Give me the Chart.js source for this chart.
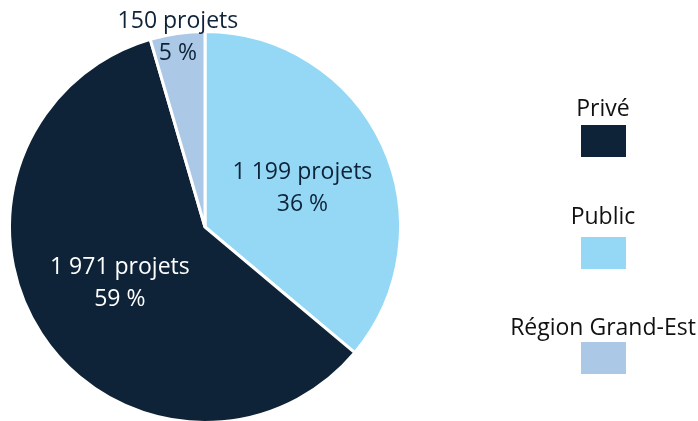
<!DOCTYPE html>
<html>
<head>
<meta charset="utf-8">
<script src="https://cdn.jsdelivr.net/npm/chart.js@4"></script>
<style>
  html,body{margin:0;padding:0;background:#fff;overflow:hidden;}
  #wrap{position:absolute;left:0;top:0;width:698px;height:440px;}
  .lg-t{position:absolute;left:483px;width:240px;text-align:center;font-family:"Open Sans",sans-serif;font-size:23px;line-height:30px;color:#111;white-space:nowrap;}
  .lg-b{position:absolute;left:581px;width:45px;height:32px;}
</style>
</head>
<body>
<div id="wrap"><canvas id="ch"></canvas></div>
<div id="legend"></div>
<script>
// slice order = drawing order, clockwise from 12 o'clock
const categories = ['Public','Privé','Région Grand-Est'];
const projets    = [1199, 1971, 150];
const percents   = [36, 59, 5];
const colors     = ['#94D8F5','#0E2338','#ABC9E6'];
const legendOrder = ['Privé','Public','Région Grand-Est'];

const fmt = n => n.toLocaleString('fr-FR').replace(/\s/g,' ');

// labels on the slices
const sliceLabels = {
  id:'sliceLabels',
  afterDatasetsDraw(chart){
    const {ctx} = chart;
    const meta = chart.getDatasetMeta(0);
    const rf  = [0.55, 0.52, 0.98];
    const dy  = [7, 1, 0];
    const col = ['#0E2338','#ffffff','#0E2338'];
    meta.data.forEach((arc,i)=>{
      const mid = (arc.startAngle+arc.endAngle)/2;
      const r = arc.outerRadius*rf[i];
      const x = arc.x + Math.cos(mid)*r, y = arc.y + Math.sin(mid)*r + dy[i];
      ctx.save();
      ctx.font = '23px "Open Sans", sans-serif';
      ctx.fillStyle = col[i];
      ctx.textAlign = 'center'; ctx.textBaseline = 'middle';
      ctx.fillText(fmt(projets[i])+' projets', x, y-16);
      ctx.fillText(percents[i]+' %', x, y+16);
      ctx.restore();
    });
  }
};

new Chart(document.getElementById('ch'), {
  type:'pie',
  data:{ labels:categories, datasets:[{ data:projets, backgroundColor:colors, borderColor:'#fff', borderWidth:3 }] },
  options:{ responsive:true, maintainAspectRatio:false, animation:false,
    layout:{ padding:{ left:8, right:296, top:30, bottom:16 } },
    plugins:{ legend:{ display:false }, tooltip:{ enabled:false } } },
  plugins:[sliceLabels]
});

// legend, label above its box
const textMid = [107, 215, 326];
const boxTop  = [125, 237, 342];
const lg = document.getElementById('legend');
legendOrder.forEach((name,k)=>{
  const t = document.createElement('div'); t.className='lg-t'; t.style.top=(textMid[k]-15)+'px'; t.textContent=name;
  const b = document.createElement('div'); b.className='lg-b'; b.style.top=boxTop[k]+'px';
  b.style.background = colors[categories.indexOf(name)];
  lg.append(t,b);
});
</script>
</body>
</html>
